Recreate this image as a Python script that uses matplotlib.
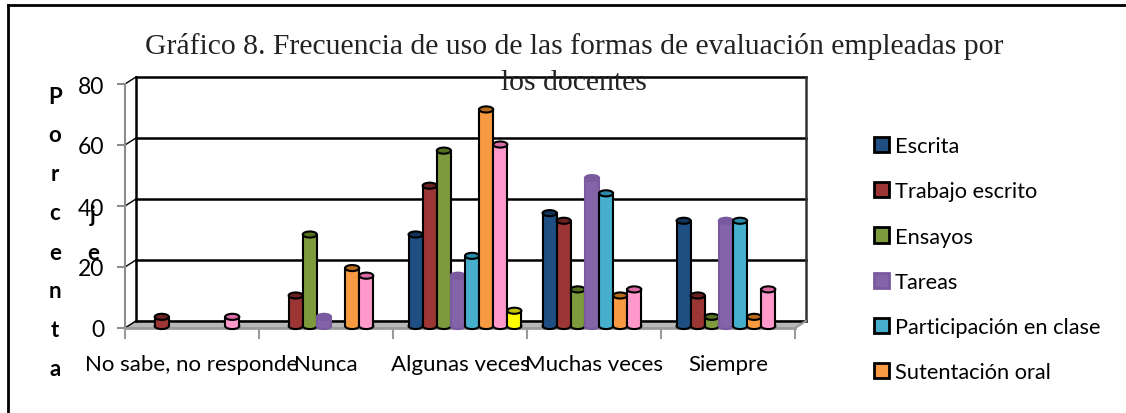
import matplotlib
matplotlib.use("Agg")
import matplotlib.pyplot as plt
from matplotlib.lines import Line2D
from matplotlib.patches import Ellipse, Rectangle, Polygon
from matplotlib.transforms import Affine2D

categories = ["No sabe, no responde", "Nunca", "Algunas veces", "Muchas veces", "Siempre"]
series_names = ["Escrita", "Trabajo escrito", "Ensayos", "Tareas",
                "Participación en clase", "Sutentación oral", "Otra 1", "Otra 2"]

escrita = [0, 0, 30, 37, 34.5]
trabajo = [3, 10, 46, 34.5, 10]
ensayos = [0, 30, 57.5, 12, 3]
tareas = [0, 3, 16.5, 48.5, 34.5]
participacion = [0, 0, 23, 43.5, 34.5]
sustentacion = [0, 19, 71, 10, 3]
rosa = [3, 16.5, 59.5, 12, 12]
amarillo = [0, 0, 5, 0, 0]
all_series = [escrita, trabajo, ensayos, tareas, participacion, sustentacion, rosa, amarillo]

colors = ["#1f4e82", "#9c3634", "#7d9b3c", "#8464a8", "#46afcd", "#f79a42", "#ff99cc", "#ffff00"]
tops = ["#12345a", "#6b2120", "#55701f", "#7a5a9e", "#2a8aa8", "#b86a1c", "#d96aa5", "#c4c400"]
edges = ["black", "black", "black", "#7a5a9e", "black", "black", "black", "black"]

yticks = [0, 20, 40, 60, 80]
sans = "Lato"

fig = plt.figure(figsize=(11.26, 4.14), dpi=100)
ax = fig.add_axes([125 / 1126, (414 - 329) / 414, 670 / 1126, 244 / 414])
ax.set_xlim(0, 5)
ax.set_ylim(0, 80)

# fake 3d: back wall and bars are the data transform moved by some pixels
back = ax.transData + Affine2D().translate(11, 7)
mid = ax.transData + Affine2D().translate(5, 2)

# floor
floor = Polygon([(0, 0), (5, 0), (5.08, 2.3), (0.08, 2.3)], closed=True,
                facecolor="#b8b8b8", edgecolor="#a0a0a0", lw=1, clip_on=False, zorder=1)
ax.add_patch(floor)

# walls and grid
for y in yticks:
    ax.plot([0, 5], [y, y], color="black", lw=1.8, transform=back, clip_on=False, zorder=2)
    ax.plot([0, 0.082], [y, y + 2.3], color="black", lw=1, clip_on=False, zorder=2)
ax.plot([0, 0], [0, 80], color="black", lw=1.8, transform=back, clip_on=False, zorder=2)
ax.plot([5, 5], [0, 80], color="#333333", lw=1.8, transform=back, clip_on=False, zorder=2)
ax.plot([5, 5.082], [0, 2.3], color="#9a9a9a", lw=1.5, clip_on=False, zorder=2)

n = len(all_series)
bar_w = 1 / (n + 1.5)
z = 3
handles = []
for i in range(len(categories)):
    for j, values in enumerate(all_series):
        v = values[i]
        if v == 0:
            continue
        x = i + (0.75 + j + 0.5) * bar_w
        ax.add_patch(Ellipse((x, 0), bar_w, 2, facecolor=colors[j], edgecolor=edges[j],
                             lw=1.5, transform=mid, clip_on=False, zorder=z))
        ax.bar(x, v, bar_w, color=colors[j], edgecolor="none", transform=mid,
               clip_on=False, zorder=z)
        ax.plot([x - bar_w / 2, x - bar_w / 2], [0, v], color=edges[j], lw=1.5,
                transform=mid, clip_on=False, zorder=z)
        ax.plot([x + bar_w / 2, x + bar_w / 2], [0, v], color=edges[j], lw=1.5,
                transform=mid, clip_on=False, zorder=z)
        ax.add_patch(Ellipse((x, v), bar_w, 2, facecolor=tops[j], edgecolor=edges[j],
                             lw=1.5, transform=mid, clip_on=False, zorder=z))
        z += 0.01

for j in range(6):
    handles.append(Rectangle((0, 0), 1, 1, facecolor=colors[j], edgecolor=edges[j], lw=2,
                             label=series_names[j]))

# axes
ax.set_facecolor("none")
ax.spines["top"].set_visible(False)
ax.spines["right"].set_visible(False)
ax.spines["left"].set_color("#8c8c8c")
ax.spines["bottom"].set_color("#9a9a9a")
ax.spines["left"].set_linewidth(1.5)
ax.spines["bottom"].set_linewidth(2)
ax.set_yticks(yticks)
ax.set_yticklabels([str(y) for y in yticks], family=sans, fontsize=16.5)
ax.tick_params(axis="y", length=6, width=1.5, color="#8c8c8c", pad=9)
ax.set_xticks(range(6), minor=True)
ax.tick_params(axis="x", which="minor", length=8, width=1.5, color="#9a9a9a")
ax.set_xticks([i + 0.5 for i in range(len(categories))])
ax.set_xticklabels(categories, family=sans, fontsize=16)
ax.tick_params(axis="x", which="major", length=0, pad=19)

# title is on top of the plot like in the original
fig.text(574 / 1126, 1 - 33 / 414,
         "Gráfico 8. Frecuencia de uso de las formas de evaluación empleadas por\nlos docentes",
         family="Liberation Serif", fontsize=21.3, ha="center", va="top",
         linespacing=1.5, color="#222222", zorder=20)

# axis title wraps in two columns
col1 = "Porcenta"
col2 = "je"
for k, ch in enumerate(col1):
    fig.text(55 / 1126, 1 - (97 + k * 39) / 414, ch, family=sans, fontsize=16, fontweight="bold",
             ha="center", va="center")
for k, ch in enumerate(col2):
    fig.text(93 / 1126, 1 - (216 + k * 38) / 414, ch, family=sans, fontsize=16, fontweight="bold",
             ha="center", va="center")

fig.legend(handles=handles, loc="upper left", bbox_to_anchor=(874 / 1126, 1 - 137 / 414),
           frameon=False, prop={"family": sans, "size": 15.7}, labelspacing=1.16,
           handlelength=0.7, handleheight=0.7, handletextpad=0.25, borderaxespad=0, borderpad=0)

# only the top and left border of the picture are there
fig.add_artist(Line2D([8 / 1126, 8 / 1126], [0, 1 - 6 / 414], color="black", lw=2,
                      transform=fig.transFigure))
fig.add_artist(Line2D([8 / 1126, 1], [1 - 6 / 414, 1 - 6 / 414], color="black", lw=2,
                      transform=fig.transFigure))

fig.savefig("out.png", dpi=100)
